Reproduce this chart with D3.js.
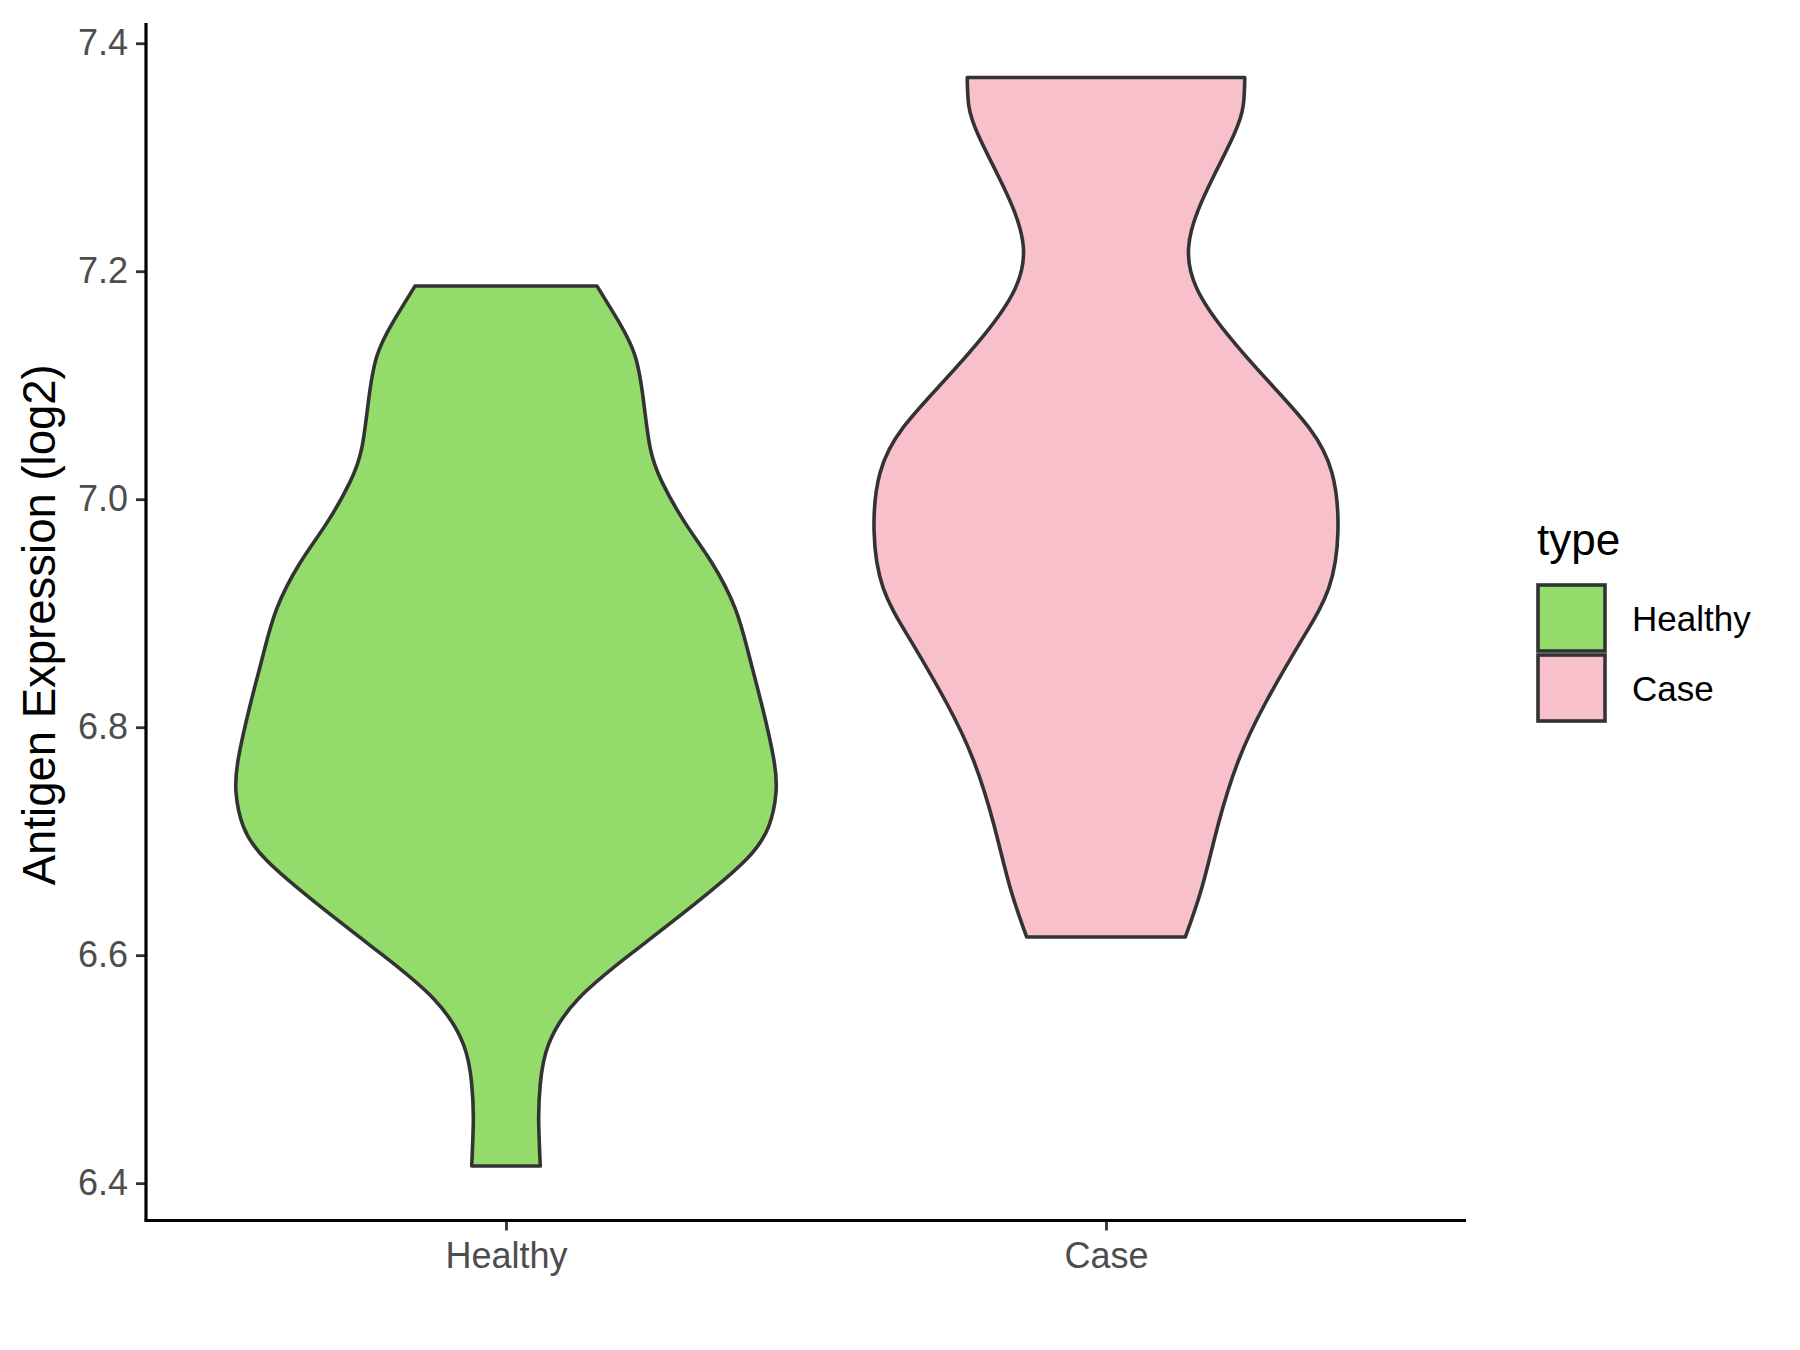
<!DOCTYPE html>
<html>
<head>
<meta charset="utf-8">
<script src="https://d3js.org/d3.v7.min.js"></script>
<title>Antigen Expression violin</title>
<style>
	body { margin: 0; background: #fff; }
	svg text { font-family: Arial, "Liberation Sans", sans-serif; }
</style>
</head>
<body>
<div id="chart"></div>
<script>
// groups on the x axis
var groups = ["Healthy", "Case"];
var fills = ["#93DC6B", "#F7C0CB"];
var yTicks = [6.4, 6.6, 6.8, 7.0, 7.2, 7.4];

// violin outlines: expression level and relative width
var healthyLevels = [7.187, 7.156, 7.125, 7.085, 7.045, 7.015, 6.979, 6.944, 6.904, 6.864, 6.819, 6.773, 6.743, 6.713, 6.683, 6.643, 6.602, 6.562, 6.522, 6.487, 6.456, 6.415];
var healthyWidth  = [0.337, 0.417, 0.479, 0.510, 0.534, 0.578, 0.664, 0.763, 0.849, 0.899, 0.948, 0.991, 1.000, 0.973, 0.886, 0.689, 0.467, 0.269, 0.158, 0.127, 0.121, 0.127];
var caseLevels = [7.370, 7.345, 7.320, 7.284, 7.254, 7.221, 7.184, 7.143, 7.103, 7.063, 7.023, 6.972, 6.922, 6.877, 6.821, 6.771, 6.716, 6.660, 6.616];
var caseWidth  = [0.514, 0.508, 0.474, 0.400, 0.342, 0.306, 0.338, 0.455, 0.603, 0.751, 0.837, 0.859, 0.825, 0.726, 0.590, 0.491, 0.417, 0.356, 0.294];

function draw() {
	var W = 1800, H = 1350;
	var left = 146, right = 1466, top = 23, bottom = 1220.5;

	var svg = d3.select("#chart").append("svg")
		.attr("width", W).attr("height", H);

	var violins = [
		{ name: "Healthy", levels: healthyLevels, width: healthyWidth },
		{ name: "Case", levels: caseLevels, width: caseWidth }
	];

	var lo = d3.min([d3.min(healthyLevels), d3.min(caseLevels)]);
	var hi = d3.max([d3.max(healthyLevels), d3.max(caseLevels)]);
	var pad = (hi - lo) * 0.05;

	var y = d3.scaleLinear().domain([lo - pad, hi + pad]).range([bottom, top]);
	var x = d3.scalePoint().domain(groups).range([left, right]).padding(0.6);
	var color = d3.scaleOrdinal().domain(groups).range(fills);
	var half = x.step() * 0.45;

	// violins
	violins.forEach(function(v) {
		var pts = v.levels.map(function(l, i) { return { y: l, w: v.width[i] }; });
		var cx = x(v.name);
		var area = d3.area()
			.y(function(d) { return y(d.y); })
			.x0(function(d) { return cx - d.w * half; })
			.x1(function(d) { return cx + d.w * half; })
			.curve(d3.curveNatural);
		svg.append("path")
			.datum(pts)
			.attr("d", area)
			.attr("fill", color(v.name))
			.attr("stroke", "#333333")
			.attr("stroke-width", 3.6)
			.attr("stroke-linejoin", "round");
	});

	// y axis
	var yAxis = svg.append("g")
		.attr("transform", "translate(" + left + ",0)")
		.call(d3.axisLeft(y).tickValues(yTicks).tickFormat(d3.format(".1f")).tickSize(10).tickPadding(8));
	yAxis.select(".domain").remove();
	yAxis.selectAll(".tick line").attr("stroke", "#333333").attr("stroke-width", 2.8);
	yAxis.selectAll(".tick text").attr("fill", "#4D4D4D").style("font-size", "36px")
		.attr("font-family", null);

	// x axis
	var xAxis = svg.append("g")
		.attr("transform", "translate(0," + bottom + ")")
		.call(d3.axisBottom(x).tickSize(10).tickPadding(12));
	xAxis.select(".domain").remove();
	xAxis.selectAll(".tick line").attr("stroke", "#333333").attr("stroke-width", 2.8);
	xAxis.selectAll(".tick text").attr("fill", "#4D4D4D").style("font-size", "36px")
		.attr("font-family", null);

	// axis lines
	svg.append("line").attr("x1", left).attr("x2", left).attr("y1", top).attr("y2", bottom)
		.attr("stroke", "#000").attr("stroke-width", 3.2);
	svg.append("line").attr("x1", left - 1.6).attr("x2", right).attr("y1", bottom).attr("y2", bottom)
		.attr("stroke", "#000").attr("stroke-width", 3.2);

	// y title
	svg.append("text")
		.attr("transform", "translate(55," + ((top + bottom) / 2 + 3) + ") rotate(-90)")
		.attr("text-anchor", "middle")
		.style("font-size", "45.5px")
		.attr("fill", "#000")
		.text("Antigen Expression (log2)");

	// legend
	var lg = svg.append("g").attr("transform", "translate(1537,0)");
	lg.append("text").attr("x", 0).attr("y", 555).style("font-size", "44px").text("type");
	groups.forEach(function(g, i) {
		var ky = 585 + i * 70;
		lg.append("rect")
			.attr("x", 1).attr("y", ky).attr("width", 67).attr("height", 66)
			.attr("fill", color(g)).attr("stroke", "#333333").attr("stroke-width", 3.6);
		lg.append("text")
			.attr("x", 95).attr("y", ky + 46)
			.style("font-size", "35px").attr("fill", "#000")
			.text(g);
	});
}

draw();
</script>
</body>
</html>
